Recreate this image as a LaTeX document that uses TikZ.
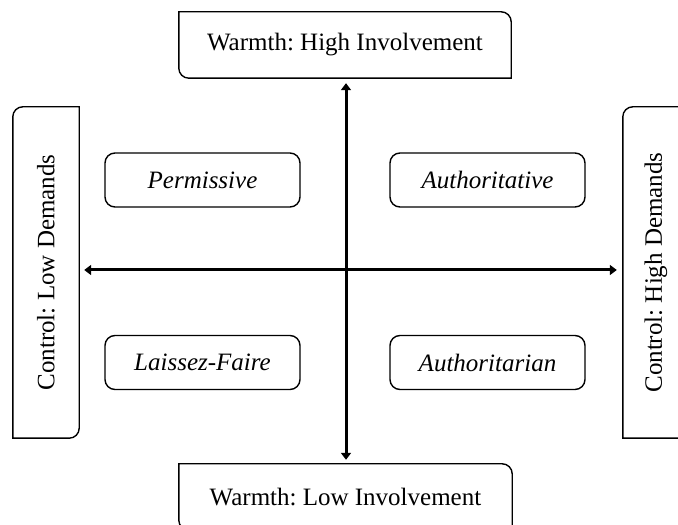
\documentclass[tikz,border=0pt]{standalone}
\usepackage{fontspec}
\setmainfont{Liberation Serif}
\usetikzlibrary{arrows.meta}
\frenchspacing

\tikzset{
    quadrant/.style={
           rectangle,
           draw=black, line width=1.4pt,
           rounded corners=10pt,
           minimum width=195pt, minimum height=54pt,
           font=\itshape,
           text centered,
           },
    pole/.style={
           rectangle, inner sep=0pt,
           text centered,
           },
    border/.style={draw=black, line width=1.4pt},
    axis/.style={
           line width=3pt,
           {Triangle[length=7pt,width=10pt]}-{Triangle[length=7pt,width=10pt]},
           },
}

\begin{document}
\begin{tikzpicture}[x=1pt,y=1pt]
\fontsize{25}{30}\selectfont
       \clip (0,0) rectangle (678,525);

       \coordinate (ORIGIN) at (346,255);

       \node[pole, minimum width=332pt, minimum height=66pt] (WARMHIGH) at (345,480) {Warmth: High Involvement};
       \node[pole, minimum width=333pt, minimum height=66pt] (WARMLOW) at (345.5,28) {Warmth: Low Involvement};
       \node[pole, minimum width=66pt, minimum height=331pt] (CONTROLLOW) at (46,252.5) {\rotatebox{90}{Control: Low Demands}};
       \node[pole, minimum width=66pt, minimum height=331pt] (CONTROLHIGH) at (656,252.5) {\rotatebox{90}{Control: High Demands}};

       \node[quadrant] (PERMISSIVE) at (202.5,345) {Permissive};
       \node[quadrant] (AUTHORITATIVE) at (487.5,345) {Authoritative};
       \node[quadrant] (LAISSEZ) at (202.5,162.5) {Laissez-Faire};
       \node[quadrant] (AUTHORITARIAN) at (487.5,162.5) {Authoritarian};

       % boxes with two round corners
       \draw[border] (WARMHIGH.north west) -- ([xshift=-10pt]WARMHIGH.north east) arc[start angle=90,end angle=0,radius=10pt]
              -- (WARMHIGH.south east) -- ([xshift=10pt]WARMHIGH.south west) arc[start angle=270,end angle=180,radius=10pt] -- cycle;
       \draw[border] (WARMLOW.north west) -- ([xshift=-10pt]WARMLOW.north east) arc[start angle=90,end angle=0,radius=10pt]
              -- (WARMLOW.south east) -- ([xshift=10pt]WARMLOW.south west) arc[start angle=270,end angle=180,radius=10pt] -- cycle;
       \draw[border] ([yshift=-10pt]CONTROLLOW.north west) arc[start angle=180,end angle=90,radius=10pt] -- (CONTROLLOW.north east)
              -- ([yshift=10pt]CONTROLLOW.south east) arc[start angle=0,end angle=-90,radius=10pt] -- (CONTROLLOW.south west) -- cycle;
       \draw[border] ([yshift=-10pt]CONTROLHIGH.north west) arc[start angle=180,end angle=90,radius=10pt] -- (CONTROLHIGH.north east)
              -- ([yshift=10pt]CONTROLHIGH.south east) arc[start angle=0,end angle=-90,radius=10pt] -- (CONTROLHIGH.south west) -- cycle;

       \draw[axis, shorten <=5pt, shorten >=4pt] (WARMHIGH.south -| ORIGIN) -- (WARMLOW.north -| ORIGIN) ;
       \draw[axis, shorten <=5pt, shorten >=6pt] (CONTROLLOW.east |- ORIGIN) -- (CONTROLHIGH.west |- ORIGIN) ;

\end{tikzpicture}
\end{document}
